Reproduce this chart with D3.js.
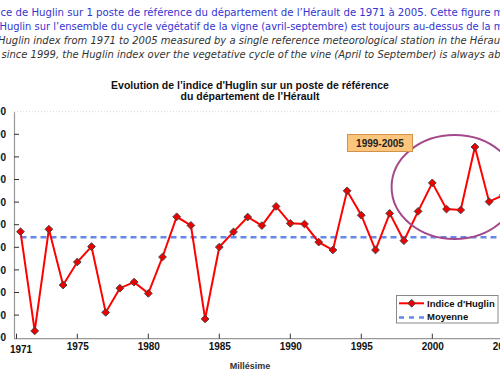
<!DOCTYPE html>
<html>
<head>
<meta charset="utf-8">
<script src="https://cdn.jsdelivr.net/npm/d3@7"></script>
<style>
  html, body { margin: 0; padding: 0; background: #fff; overflow: hidden; }
  svg { display: block; }
</style>
</head>
<body>
<svg id="chart" width="500" height="380"></svg>
<script>
// ---------------- DATA ----------------
const years = [1971,1972,1973,1974,1975,1976,1977,1978,1979,1980,
               1981,1982,1983,1984,1985,1986,1987,1988,1989,1990,
               1991,1992,1993,1994,1995,1996,1997,1998,1999,2000,
               2001,2002,2003,2004,2005];
const huglin = [2369,1930,2380,2133,2235,2303,2012,2119,2146,2096,
                2257,2435,2397,1983,2301,2368,2434,2396,2481,2406,
                2403,2323,2288,2550,2442,2288,2450,2329,2459,2585,
                2469,2465,2744,2502,2531];
const meanValue = 2344;
const yTicks = [1900,2000,2100,2200,2300,2400,2500,2600,2700,2800,2900];
const xTicks = [1971,1975,1980,1985,1990,1995,2000,2005];
const introLines = [
  "ce de Huglin sur 1 poste de référence du département de l’Hérault de 1971 à 2005. Cette figure m",
  "Huglin sur l’ensemble du cycle végétatif de la vigne (avril-septembre) est toujours au-dessus de la m",
  "Huglin index from 1971 to 2005 measured by a single reference meteorological station in the Hérau",
  "since 1999, the Huglin index over the vegetative cycle of the vine (April to September) is always ab"
];
const titleLines = ["Evolution de l’indice d'Huglin sur un poste de référence", "du département de l’Hérault"];
const seriesLabels = ["Indice d'Huglin", "Moyenne"];
const highlightLabel = "1999-2005";
const xAxisTitle = "Millésime";

// ---------------- LAYOUT ----------------
const svg = d3.select("#chart");
const axisX = 14, plotTop = 111.7, plotBottom = 337.7, plotRight = 500;

const x = d3.scaleLinear().domain([1971, 2005]).range([20.5, 503.3]);
const y = d3.scaleLinear().domain([1900, 2900]).range([plotBottom, plotTop]);

// intro text
const introCfg = [
  {x: 0.5, y: 15.5, len: 503, color: "#3434d0", italic: false},
  {x: -0.5, y: 29.5, len: 504, color: "#3434d0", italic: false},
  {x: -2, y: 44, len: 502, color: "#333", italic: true},
  {x: 1.5, y: 58, len: 499, color: "#333", italic: true}
];
introLines.forEach((t, i) => {
  const c = introCfg[i];
  svg.append("text")
    .attr("x", c.x).attr("y", c.y)
    .attr("textLength", c.len).attr("lengthAdjust", "spacingAndGlyphs")
    .style("font-family", "'DejaVu Sans', Verdana, sans-serif")
    .style("font-size", "11px")
    .style("font-style", c.italic ? "italic" : "normal")
    .attr("fill", c.color)
    .text(t);
});

// chart title
titleLines.forEach((t, i) => {
  svg.append("text")
    .attr("x", 250).attr("y", 89 + i * 10.5)
    .attr("text-anchor", "middle")
    .style("font-family", "'Liberation Sans', Arial, sans-serif")
    .style("font-size", "10.5px").style("font-weight", "bold")
    .attr("fill", "#111")
    .text(t);
});

// top dotted border of plot area
svg.append("line")
  .attr("x1", axisX).attr("x2", plotRight)
  .attr("y1", plotTop).attr("y2", plotTop)
  .attr("stroke", "#ccc").attr("stroke-width", 0.8)
  .attr("stroke-dasharray", "1,2");

// Y axis
const yAxis = d3.axisLeft(y).tickValues(yTicks).tickSize(0).tickPadding(8).tickFormat(d3.format("d"));
const gy = svg.append("g").attr("transform", `translate(${axisX},0)`).call(yAxis);
gy.select(".domain").attr("stroke", "#999").attr("stroke-width", 1.2);
gy.selectAll("text")
  .style("font-family", "'Liberation Sans', Arial, sans-serif")
  .style("font-size", "10px").style("font-weight", "bold").attr("fill", "#111");
// inner ticks
svg.append("g").selectAll("line").data(yTicks.slice(1, -1)).join("line")
  .attr("x1", axisX).attr("x2", axisX + 5)
  .attr("y1", d => y(d)).attr("y2", d => y(d))
  .attr("stroke", "#333").attr("stroke-width", 1);

// X axis
svg.append("line")
  .attr("x1", axisX).attr("x2", plotRight)
  .attr("y1", plotBottom + 1).attr("y2", plotBottom + 1)
  .attr("stroke", "#999").attr("stroke-width", 1.2);
const xAxis = d3.axisBottom(x).tickValues(xTicks).tickSize(0).tickPadding(0).tickFormat(d3.format("d"));
const gx = svg.append("g").attr("transform", `translate(0,${plotBottom + 1})`).call(xAxis);
gx.select(".domain").remove();
gx.selectAll("text")
  .attr("dy", null)
  .attr("y", d => d === 1971 ? 14.5 : 11)
  .style("font-family", "'Liberation Sans', Arial, sans-serif")
  .style("font-size", "10px").style("font-weight", "bold").attr("fill", "#111");
svg.append("g").selectAll("line").data(xTicks).join("line")
  .attr("x1", d => d === 1971 ? x(d) - 4 : x(d)).attr("x2", d => d === 1971 ? x(d) - 4 : x(d))
  .attr("y1", plotBottom - 4).attr("y2", plotBottom + 1)
  .attr("stroke", "#333").attr("stroke-width", 1);

svg.append("text")
  .attr("x", 250).attr("y", 369)
  .attr("text-anchor", "middle")
  .style("font-family", "'Liberation Sans', Arial, sans-serif")
  .style("font-size", "9px").style("font-weight", "bold").attr("fill", "#333")
  .text(xAxisTitle);

// mean line
svg.append("line")
  .attr("x1", x(1971)).attr("x2", plotRight)
  .attr("y1", y(meanValue)).attr("y2", y(meanValue))
  .attr("stroke", "#6688e8").attr("stroke-width", 2.5)
  .attr("stroke-dasharray", "6,4");

// series
const pts = years.map((yr, i) => [yr, huglin[i]]);
svg.append("path")
  .datum(pts)
  .attr("fill", "none").attr("stroke", "#ff0000").attr("stroke-width", 2)
  .attr("d", d3.line().x(d => x(d[0])).y(d => y(d[1])));

const diamond = d3.symbol().type(d3.symbolDiamond2).size(38);
svg.append("g").selectAll("path").data(pts).join("path")
  .attr("transform", d => `translate(${x(d[0])},${y(d[1])})`)
  .attr("d", diamond)
  .attr("fill", "#ee0000").attr("stroke", "#444").attr("stroke-width", 1);

// highlight ellipse
svg.append("ellipse")
  .attr("cx", (x(1999) + x(2004)) / 2 + 1).attr("cy", 187)
  .attr("rx", 63).attr("ry", 52)
  .attr("fill", "none").attr("stroke", "#a3498a").attr("stroke-width", 2);

// highlight label box
svg.append("rect")
  .attr("x", 347.5).attr("y", 134.5).attr("width", 65).attr("height", 17)
  .attr("fill", "#fbc57c").attr("stroke", "#d1924a").attr("stroke-width", 1);
svg.append("text")
  .attr("x", 380).attr("y", 146.5).attr("text-anchor", "middle")
  .style("font-family", "'Liberation Sans', Arial, sans-serif")
  .style("font-size", "10px").style("font-weight", "bold").attr("fill", "#222")
  .text(highlightLabel);

// legend
const lg = svg.append("g");
lg.append("rect")
  .attr("x", 396.5).attr("y", 295.5).attr("width", 101.5).attr("height", 27.5)
  .attr("fill", "#fff").attr("stroke", "#888").attr("stroke-width", 1);
lg.append("line").attr("x1", 399).attr("x2", 424).attr("y1", 303.3).attr("y2", 303.3)
  .attr("stroke", "#ff0000").attr("stroke-width", 2);
lg.append("path").attr("transform", "translate(411.7,303.3)").attr("d", diamond)
  .attr("fill", "#ee0000").attr("stroke", "#444").attr("stroke-width", 1);
lg.append("line").attr("x1", 399).attr("x2", 424).attr("y1", 317.5).attr("y2", 317.5)
  .attr("stroke", "#6688e8").attr("stroke-width", 2.5).attr("stroke-dasharray", "5,5");
seriesLabels.forEach((t, i) => {
  lg.append("text")
    .attr("x", 427).attr("y", 306.5 + i * 13)
    .style("font-family", "'Liberation Sans', Arial, sans-serif")
    .style("font-size", "9.5px").style("font-weight", "bold").attr("fill", "#111")
    .text(t);
});
</script>
</body>
</html>
